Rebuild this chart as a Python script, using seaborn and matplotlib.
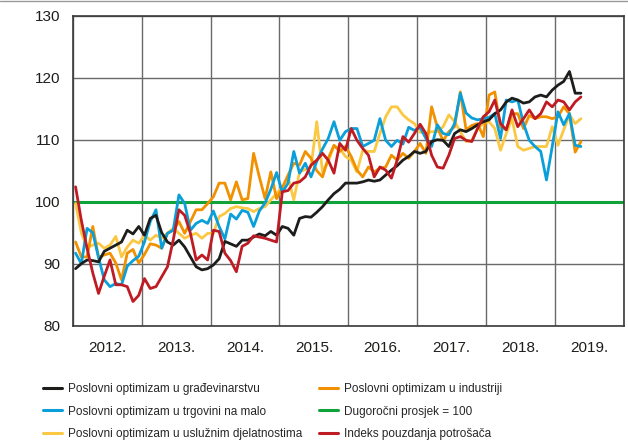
import numpy as np
import pandas as pd
import seaborn as sns
import matplotlib.pyplot as plt
from matplotlib import font_manager
from matplotlib.lines import Line2D

# Mjesečni podaci, siječanj 2012. - svibanj 2019.
godine = [2012, 2013, 2014, 2015, 2016, 2017, 2018, 2019]

gradjevinarstvo = [
    89.2, 90.0, 90.6, 90.5, 90.3, 92.0, 92.5, 93.0, 93.5, 95.4, 94.8, 96.0,
    94.6, 97.3, 97.8, 95.0, 93.5, 93.0, 93.8, 92.7, 91.1, 89.5, 89.0, 89.2,
    89.8, 90.8, 93.6, 93.2, 92.8, 93.8, 93.8, 94.3, 94.8, 94.5, 95.2, 94.6,
    96.0, 95.7, 94.6, 97.3, 97.6, 97.5, 98.3, 99.2, 100.3, 101.3, 102.0, 103.0,
    103.0, 103.0, 103.2, 103.5, 103.3, 103.5, 104.3, 105.1, 105.8, 106.7, 107.3, 108.1,
    107.8, 108.1, 109.7, 110.0, 109.9, 108.9, 111.0, 111.6, 111.3, 111.8, 112.4, 112.9,
    113.2, 114.2, 114.8, 116.1, 116.7, 116.4, 115.9, 116.1, 116.9, 117.2, 116.9, 118.0,
    118.8, 119.4, 121.0, 117.5, 117.5]

industrija = [
    93.5, 91.1, 91.1, 96.0, 91.0, 91.4, 91.7, 90.1, 87.4, 91.7, 92.3, 90.1,
    91.5, 93.2, 93.0, 92.5, 94.9, 95.4, 96.8, 94.9, 96.8, 98.7, 98.7, 99.7,
    100.8, 103.0, 103.0, 100.3, 103.2, 100.3, 100.5, 107.8, 104.0, 100.5, 104.8, 100.5,
    102.2, 104.3, 106.2, 105.9, 108.1, 107.0, 105.0, 104.0, 107.0, 109.1, 108.1, 108.9,
    107.3, 105.1, 104.0, 105.6, 104.8, 105.4, 105.6, 107.5, 106.7, 107.8, 107.0, 108.1,
    109.4, 107.8, 115.3, 112.0, 109.8, 111.3, 112.1, 117.7, 111.6, 112.3, 112.6, 110.5,
    117.2, 117.7, 112.0, 111.6, 114.2, 114.2, 111.8, 113.9, 113.4, 113.7, 113.7, 113.4,
    113.7, 115.3, 114.2, 108.0, 109.7]

trgovina = [
    91.7, 90.0, 95.7, 95.0, 91.0, 87.4, 86.3, 86.8, 86.6, 89.6, 90.5, 91.2,
    93.5, 96.8, 98.7, 92.5, 94.9, 95.4, 101.1, 99.7, 95.4, 96.5, 97.0, 96.5,
    98.5, 96.0, 94.0, 98.0, 97.2, 98.6, 98.3, 96.0, 98.5, 99.8, 102.0, 104.7,
    101.5, 103.0, 108.1, 104.6, 106.2, 104.0, 106.5, 108.5, 110.2, 112.9, 109.9, 111.3,
    111.8, 111.8, 108.9, 109.4, 109.9, 113.4, 109.9, 108.9, 109.9, 109.3, 112.0, 111.5,
    112.0, 110.2, 108.9, 112.4, 111.0, 110.8, 112.6, 117.5, 114.3, 113.5, 113.2, 113.4,
    113.6, 114.2, 110.2, 116.4, 116.1, 116.4, 112.6, 109.9, 108.9, 108.1, 103.5, 108.9,
    114.5, 112.4, 114.2, 109.1, 108.9]

usluge = [
    99.7, 95.0, 92.6, 93.0, 93.3, 92.5, 93.0, 94.4, 91.1, 92.7, 93.8, 93.3,
    94.6, 93.8, 94.6, 94.1, 94.9, 95.7, 94.9, 94.1, 94.6, 94.9, 94.1, 94.9,
    94.9, 97.6, 98.1, 98.9, 99.2, 99.0, 98.9, 98.4, 98.9, 99.2, 100.3, 101.3,
    102.4, 104.0, 100.3, 104.8, 105.2, 105.6, 112.9, 104.8, 106.5, 109.0, 108.6, 107.3,
    106.7, 104.8, 108.3, 108.1, 108.1, 111.0, 113.7, 115.3, 115.3, 114.0, 113.2, 112.6,
    111.2, 111.0, 111.3, 111.3, 112.1, 114.0, 112.9, 111.3, 109.7, 109.9, 111.8, 112.6,
    112.9, 111.8, 108.3, 111.0, 113.4, 108.9, 108.3, 108.6, 108.9, 108.9, 108.9, 112.1,
    109.1, 111.6, 114.0, 112.6, 113.4]

potrosaci = [
    102.4, 97.0, 92.5, 88.5, 85.2, 88.0, 90.6, 86.6, 86.6, 86.3, 83.9, 84.9,
    87.6, 86.0, 86.3, 87.9, 89.5, 93.8, 98.7, 97.8, 94.9, 90.6, 91.4, 90.6,
    95.4, 95.2, 91.7, 90.5, 88.7, 92.8, 93.3, 94.5, 94.3, 94.1, 93.8, 93.5,
    101.6, 101.8, 103.0, 103.2, 104.0, 105.9, 106.7, 107.8, 106.7, 104.6, 109.4, 108.3,
    111.8, 109.9, 108.6, 107.5, 104.0, 105.6, 105.1, 103.8, 106.7, 110.5, 109.6, 111.0,
    112.5, 111.0, 107.5, 105.6, 105.4, 107.5, 110.2, 110.5, 109.9, 109.7, 111.8, 113.7,
    114.5, 116.4, 112.6, 111.6, 114.8, 112.1, 113.4, 114.8, 113.4, 114.2, 116.1, 115.3,
    116.4, 116.1, 114.8, 116.1, 116.9]

prosjek = 100

nazivi = {
    'gradjevinarstvo': 'Poslovni optimizam u građevinarstvu',
    'trgovina': 'Poslovni optimizam u trgovini na malo',
    'usluge': 'Poslovni optimizam u uslužnim djelatnostima',
    'industrija': 'Poslovni optimizam u industriji',
    'prosjek': 'Dugoročni prosjek = 100',
    'potrosaci': 'Indeks pouzdanja potrošača',
}
boje = {
    'gradjevinarstvo': '#1d1d1b',
    'trgovina': '#0a9fd9',
    'usluge': '#fbc843',
    'industrija': '#f29100',
    'prosjek': '#10a33a',
    'potrosaci': '#bf1b24',
}

sns.set_style('white')
imena = {f.name for f in font_manager.fontManager.ttflist}
font = 'Liberation Sans Narrow' if 'Liberation Sans Narrow' in imena else 'Liberation Sans'
plt.rcParams['font.family'] = [font, 'DejaVu Sans']

n = len(gradjevinarstvo)
vrijeme = godine[0] + (np.arange(n) + 0.5) / 12
df = pd.DataFrame({'t': vrijeme, 'gradjevinarstvo': gradjevinarstvo,
                   'industrija': industrija, 'trgovina': trgovina,
                   'usluge': usluge, 'potrosaci': potrosaci})
df = df.melt(id_vars='t', var_name='serija', value_name='indeks')

fig = plt.figure(figsize=(6.28, 4.43), dpi=100)
ax = fig.add_axes([72.7 / 628, 1 - 325.7 / 443, (624 - 72.7) / 628, 310 / 443])

ax.axhline(prosjek, color=boje['prosjek'], lw=2.2, zorder=2)
redoslijed = ['usluge', 'industrija', 'trgovina', 'gradjevinarstvo', 'potrosaci']
sns.lineplot(data=df, x='t', y='indeks', hue='serija', hue_order=redoslijed,
             palette=boje, linewidth=2.0, legend=False, ax=ax, zorder=3)

ax.set_xlim(2012, 2020)
ax.set_ylim(80, 130)
ax.set_yticks(range(80, 131, 10))
ax.set_xticks(range(2012, 2021))
ax.set_xticklabels([])
ax.set_xticks([g + 0.5 for g in godine], minor=True)
ax.set_xticklabels([f'{g}.' for g in godine], minor=True)
ax.tick_params(axis='both', which='both', length=0, labelsize=11, colors='#1d1d1b')
ax.tick_params(axis='y', pad=9)
ax.tick_params(axis='x', which='minor', pad=11)
ax.grid(True, which='major', color='#6a6a6a', lw=1.0)
ax.set_xlabel('')
ax.set_ylabel('')
for s in ax.spines.values():
    s.set_color('#3a3a3a')
    s.set_linewidth(1.2)

fig.add_artist(Line2D([0, 1], [0.997, 0.997], color='#9a9a9a', lw=1.0))

kljucevi = ['gradjevinarstvo', 'trgovina', 'usluge', 'industrija', 'prosjek', 'potrosaci']
ruke = [Line2D([], [], color=boje[k], lw=2.2) for k in kljucevi]
fig.legend(ruke, [nazivi[k] for k in kljucevi], ncol=2, loc='upper left',
           bbox_to_anchor=(43 / 628, 1 - 383 / 443), frameon=False, fontsize=8.5,
           handlelength=1.6, handletextpad=0.5, labelspacing=0.9,
           columnspacing=1.45, borderpad=0, borderaxespad=0)

fig.savefig('out.png', dpi=100)
